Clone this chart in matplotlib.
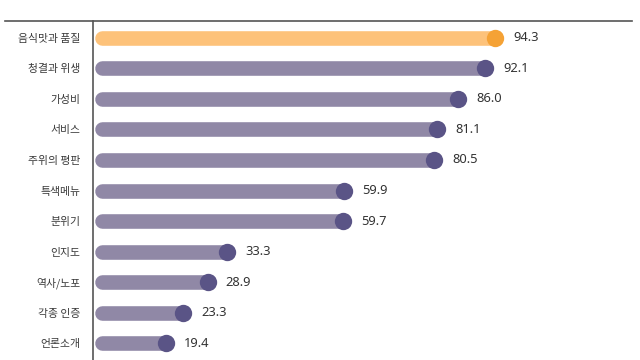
import matplotlib
matplotlib.use("Agg")
import matplotlib.pyplot as plt
from matplotlib.lines import Line2D

plt.rcParams['font.family'] = ['Noto Sans CJK KR', 'DejaVu Sans']

categories = ["음식맛과 품질", "청결과 위생", "가성비", "서비스", "주위의 평판",
              "특색메뉴", "분위기", "인지도", "역사/노포", "각종 인증", "언론소개"]
values = [94.3, 92.1, 86.0, 81.1, 80.5, 59.9, 59.7, 33.3, 28.9, 23.3, 19.4]
value_labels = ["94.3", "92.1", "86.0", "81.1", "80.5", "59.9", "59.7", "33.3", "28.9", "23.3", "19.4"]
highlight = [True] + [False] * 10

BAR_START = 4.8
BAR_LIGHT = {True: "#FDC27A", False: "#9088A6"}
DOT = {True: "#F5A235", False: "#5A5486"}

W, H = 640, 360
fig = plt.figure(figsize=(W / 100, H / 100), dpi=100)
fig.patch.set_facecolor("white")
ax = fig.add_axes([93 / W, 0, (632 - 93) / W, (360 - 21) / H])

ax.set_xlim(2.8, 125.5)
ax.set_ylim(10.54, -0.54)

for i, (v, lab, hi) in enumerate(zip(values, value_labels, highlight)):
    ax.plot([BAR_START, v], [i, i], color=BAR_LIGHT[hi], lw=10.5,
            solid_capstyle="round", zorder=2)
    ax.plot([v], [i], marker="o", ms=12.5, color=DOT[hi], mec="none", zorder=3)
    ax.annotate(lab, xy=(v, i), xytext=(13, 0), textcoords="offset points",
                va="center", ha="left", fontsize=9.3, color="#333333",
                family=["Noto Sans", "DejaVu Sans"])

ax.set_yticks(range(len(categories)))
ax.set_yticklabels(categories, fontsize=7.8, color="#3a3a3a")
ax.tick_params(axis="y", length=0, pad=9)
ax.set_xticks([])
for s in ["top", "right", "bottom"]:
    ax.spines[s].set_visible(False)
ax.spines["left"].set_color("#555555")
ax.spines["left"].set_linewidth(1.2)

fig.add_artist(Line2D([5 / W, 632 / W], [1 - 21 / H, 1 - 21 / H],
                      transform=fig.transFigure, color="#555555", lw=1.2))

fig.savefig("out.png", dpi=100)
